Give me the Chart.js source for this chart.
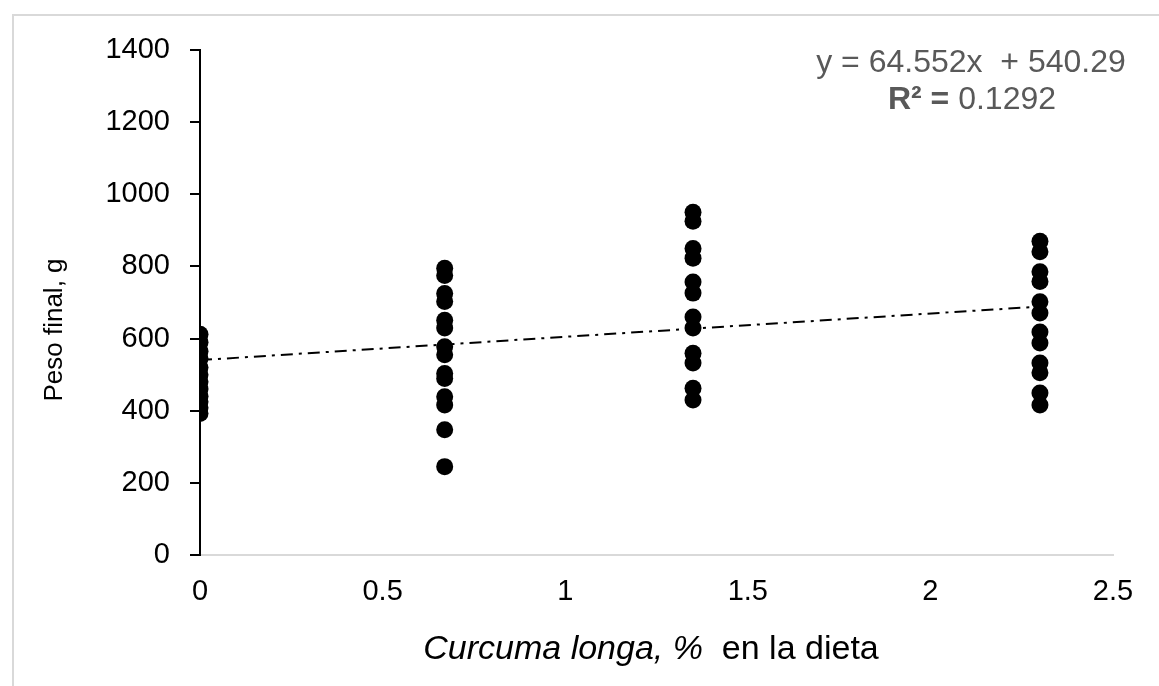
<!DOCTYPE html>
<html>
<head>
<meta charset="utf-8">
<script src="https://cdn.jsdelivr.net/npm/chart.js@4"></script>
<style>
  html, body { margin: 0; padding: 0; background: #fff; overflow: hidden; }
  #wrap { position: relative; width: 1159px; height: 686px; }
  #frame { position: absolute; left: 12px; top: 14px; width: 1200px; height: 720px;
           border: 2px solid #d9d9d9; box-sizing: border-box; }
  canvas { position: absolute; left: 0; top: 0; }
</style>
</head>
<body>
<div id="wrap">
  <div id="frame"></div>
  <canvas id="pesoChart" width="1159" height="686"></canvas>
</div>
<script>
// dosis de Curcuma longa (%) y peso final (g) por grupo
const dose0 = 0;
const dose1 = 0.67;
const dose2 = 1.35;
const dose3 = 2.3;
const peso0 = [392, 408, 425, 440, 460, 480, 500, 520, 545, 565, 590, 612];
const peso1 = [795, 775, 725, 703, 651, 629, 577, 555, 503, 489, 439, 416, 347, 245];
const peso2 = [950, 925, 850, 823, 757, 726, 660, 629, 559, 532, 462, 430];
const peso3 = [870, 841, 785, 758, 702, 671, 618, 588, 532, 505, 449, 416];

// linea de tendencia (y = 64.552x + 540.29)
const trendX = [0, 2.3];
const trendY = [540.3, 688.8];

const xTicks = [0, 0.5, 1, 1.5, 2, 2.5];
const yTicks = [0, 200, 400, 600, 800, 1000, 1200, 1400];

const points = [];
[[dose0, peso0], [dose1, peso1], [dose2, peso2], [dose3, peso3]].forEach(([d, arr]) => {
    arr.forEach(v => points.push({ x: d, y: v }));
});
const trend = trendX.map((x, i) => ({ x: x, y: trendY[i] }));

const FONT = 'Liberation Sans, Arial, sans-serif';

const extraText = {
    id: 'extraText',
    afterDraw(chart) {
        const c = chart.ctx;
        c.save();
        // titulo eje y
        c.fillStyle = '#000';
        c.font = '26px ' + FONT;
        c.textAlign = 'center';
        c.textBaseline = 'middle';
        c.translate(55, 330);
        c.rotate(-Math.PI / 2);
        c.fillText('Peso final, g', 0, 0);
        c.restore();

        // titulo eje x, parte en cursiva
        c.save();
        c.fillStyle = '#000';
        c.textBaseline = 'middle';
        const italic = 'italic 34px ' + FONT;
        const normal = '34px ' + FONT;
        const t1 = 'Curcuma longa, %';
        const t2 = '  en la dieta';
        c.font = italic;
        const w1 = c.measureText(t1).width;
        c.font = normal;
        const w2 = c.measureText(t2).width;
        let x0 = 651 - (w1 + w2) / 2;
        c.font = italic;
        c.textAlign = 'left';
        c.fillText(t1, x0, 650);
        c.font = normal;
        c.fillText(t2, x0 + w1, 650);
        c.restore();

        // ecuacion
        c.save();
        c.fillStyle = '#595959';
        c.textBaseline = 'middle';
        c.textAlign = 'center';
        c.font = '32px ' + FONT;
        c.fillText('y = 64.552x  + 540.29', 971, 63);
        const b = 'R² = ';
        const r = '0.1292';
        c.font = 'bold 32px ' + FONT;
        const wb = c.measureText(b).width;
        c.font = '32px ' + FONT;
        const wr = c.measureText(r).width;
        const xs = 972 - (wb + wr) / 2;
        c.textAlign = 'left';
        c.font = 'bold 32px ' + FONT;
        c.fillText(b, xs, 100);
        c.font = '32px ' + FONT;
        c.fillText(r, xs + wb, 100);
        c.restore();
    }
};

const ctx = document.getElementById('pesoChart').getContext('2d');
const pesoChart = new Chart(ctx, {
    type: 'scatter',
    data: {
        datasets: [{
            label: 'Peso final',
            data: points,
            backgroundColor: '#000',
            borderWidth: 0,
            pointRadius: 8.5,
            order: 2
        }, {
            label: 'Tendencia',
            type: 'line',
            data: trend,
            borderColor: '#000',
            borderWidth: 2,
            borderDash: [12, 6, 3, 6],
            pointRadius: 0,
            fill: false,
            order: 1
        }]
    },
    options: {
        responsive: false,
        animation: false,
        layout: { padding: { top: 50, right: 46, left: 0, bottom: 0 } },
        plugins: { legend: { display: false }, tooltip: { enabled: false } },
        scales: {
            x: {
                type: 'linear',
                min: 0,
                max: 2.5,
                afterBuildTicks: s => { s.ticks = xTicks.map(v => ({ value: v })); },
                ticks: { color: '#000', font: { family: FONT, size: 29 }, padding: 20,
                         callback: v => String(v) },
                grid: { display: false, drawTicks: false },
                border: { color: '#d9d9d9', width: 2 },
                afterFit: s => { s.height = 131; }
            },
            y: {
                min: 0,
                max: 1400,
                afterBuildTicks: s => { s.ticks = yTicks.map(v => ({ value: v })); },
                ticks: { color: '#000', font: { family: FONT, size: 29 }, padding: 20,
                         callback: v => String(v) },
                grid: { drawOnChartArea: false, drawTicks: true, tickLength: 10, color: '#000', lineWidth: 2 },
                border: { color: '#000', width: 2 },
                afterFit: s => { s.width = 200; }
            }
        }
    },
    plugins: [extraText]
});
</script>
</body>
</html>
